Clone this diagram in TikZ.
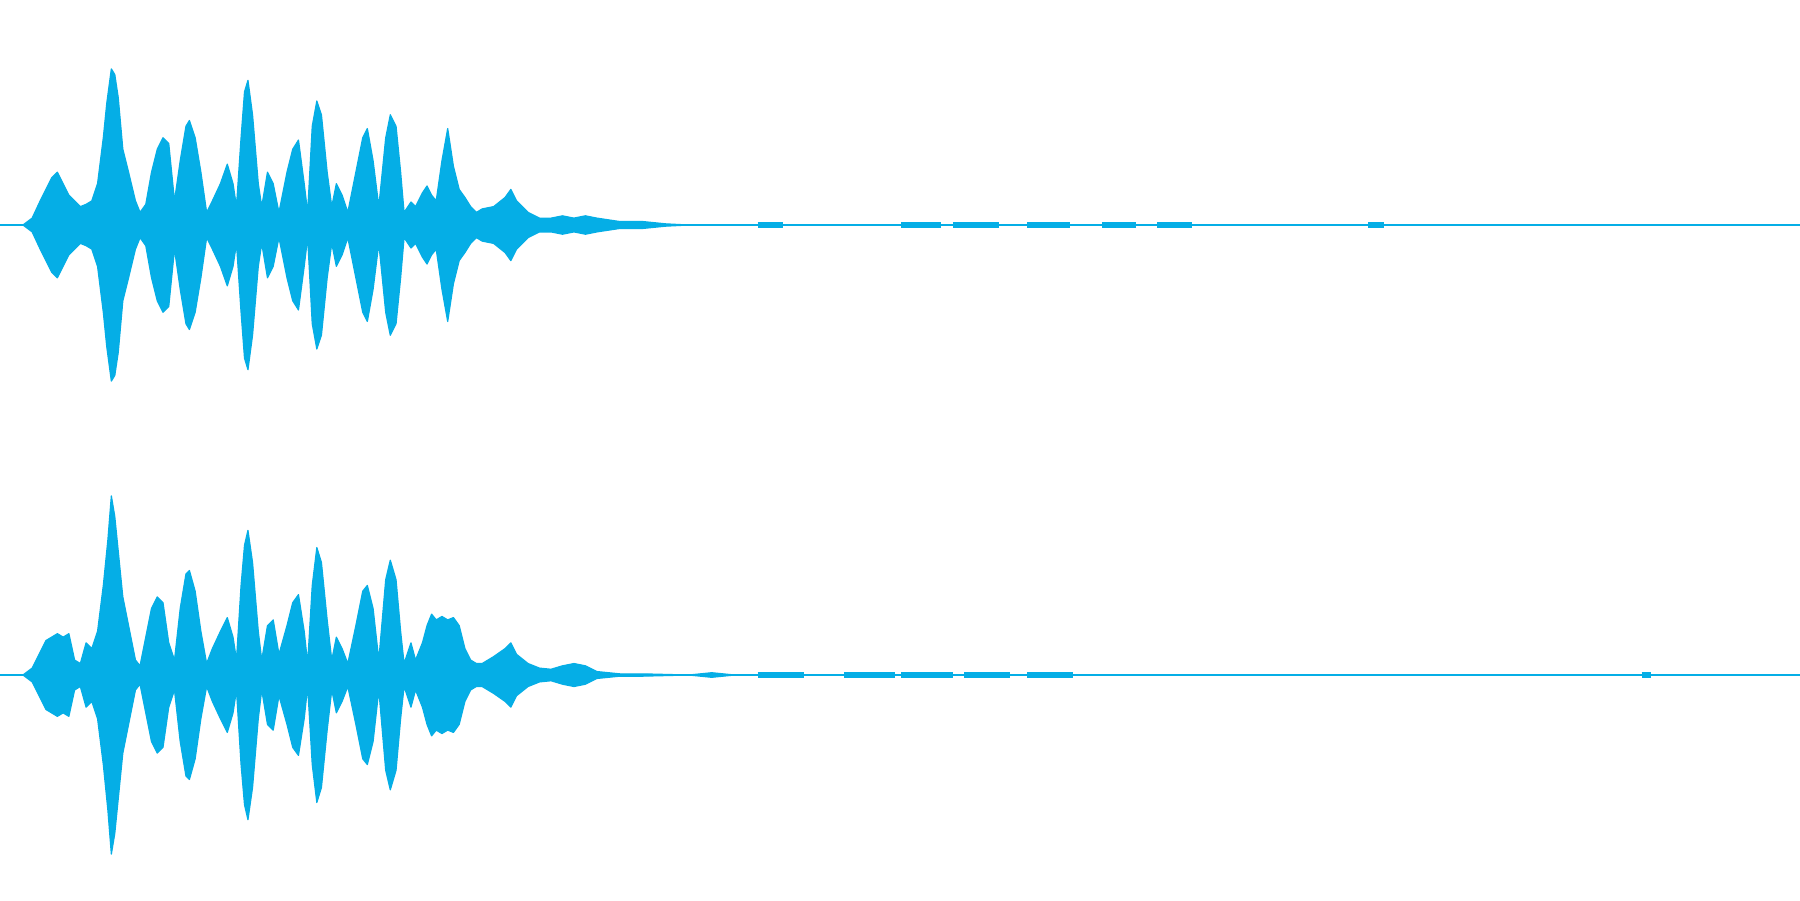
\documentclass[tikz,border=0pt]{standalone}
\definecolor{wave}{RGB}{5,174,230}
\tikzset{wavefill/.style={fill=wave,draw=wave,line width=0.3pt,line join=round}}
\def\topwave{(0,196)(20,196)(28,190)(35,175)(40,165)(45,155)(50,150)(55,160)(60,170)(65,175)(70,180)(75,178)(80,175)(85,160)(90,120)(93,90)(97,60)(100,65)(103,85)(107,130)(112,150)(118,175)(122,185)(127,178)(132,150)(137,130)(142,120)(147,125)(152,175)(157,140)(162,110)(165,105)(170,120)(175,150)(180,185)(185,175)(192,160)(198,143)(203,160)(206,180)(210,120)(213,80)(216,70)(220,100)(225,160)(228,180)(233,150)(238,160)(243,185)(250,150)(255,130)(260,122)(265,160)(268,185)(272,110)(276,88)(280,100)(285,150)(289,180)(293,160)(298,170)(303,185)(310,150)(316,120)(320,112)(325,140)(330,180)(336,120)(340,100)(345,110)(349,150)(352,185)(358,176)(362,180)(368,168)(372,162)(376,170)(380,175)(385,140)(390,112)(395,145)(400,165)(405,172)(410,180)(415,185)(420,182)(430,180)(440,172)(445,165)(450,175)(460,185)(470,190)(480,190)(490,188)(500,190)(510,188)(520,190)(540,193)(560,193)(580,195)(600,196)}
\def\botwave{(0,588)(20,588)(28,582)(35,568)(40,558)(45,555)(50,552)(55,555)(60,552)(65,575)(70,578)(75,560)(80,565)(85,550)(90,510)(94,470)(97,432)(100,450)(103,480)(107,520)(112,545)(118,575)(122,580)(127,555)(132,530)(137,520)(142,525)(147,560)(152,575)(157,530)(162,500)(165,497)(170,515)(175,550)(180,578)(185,565)(192,550)(198,538)(203,555)(206,575)(210,510)(213,475)(216,462)(220,490)(225,550)(228,575)(233,545)(238,540)(243,570)(250,545)(255,525)(260,518)(265,550)(268,578)(272,510)(276,477)(280,490)(285,540)(289,575)(293,555)(298,565)(303,578)(310,545)(316,515)(320,510)(325,530)(330,575)(336,505)(340,488)(345,505)(349,550)(352,578)(358,560)(362,575)(368,560)(372,545)(376,535)(380,540)(385,537)(390,540)(395,538)(400,545)(405,565)(410,575)(415,578)(420,578)(430,572)(440,565)(445,560)(450,570)(460,578)(470,582)(480,583)(490,580)(500,578)(510,580)(520,585)(540,587)(560,587)(600,588)(620,586)(640,588)}
\begin{document}
\begin{tikzpicture}[x=0.01cm,y=-0.01cm]
\fill[white] (0,0) rectangle (1568,784);
\useasboundingbox (0,0) rectangle (1568,784);
\draw[wave,line width=0.6pt] (0,196) -- (1568,196);
\draw[wave,line width=0.6pt] (0,588) -- (1568,588);
\fill[wavefill] plot coordinates {\topwave} -- cycle;
\begin{scope}[shift={(0,392)},yscale=-1]
\fill[wavefill] plot coordinates {\topwave} -- cycle;
\end{scope}
\fill[wavefill] plot coordinates {\botwave} -- cycle;
\begin{scope}[shift={(0,1176)},yscale=-1]
\fill[wavefill] plot coordinates {\botwave} -- cycle;
\end{scope}
\foreach \a/\b in {660/682,785/820,830/870,895/932,960/990,1008/1038,1192/1206}
  \draw[wave,line width=1.5pt] (\a,196) -- (\b,196);
\foreach \a/\b in {660/700,735/780,785/830,840/880,895/935,1430/1438}
  \draw[wave,line width=1.5pt] (\a,588) -- (\b,588);
\end{tikzpicture}
\end{document}
